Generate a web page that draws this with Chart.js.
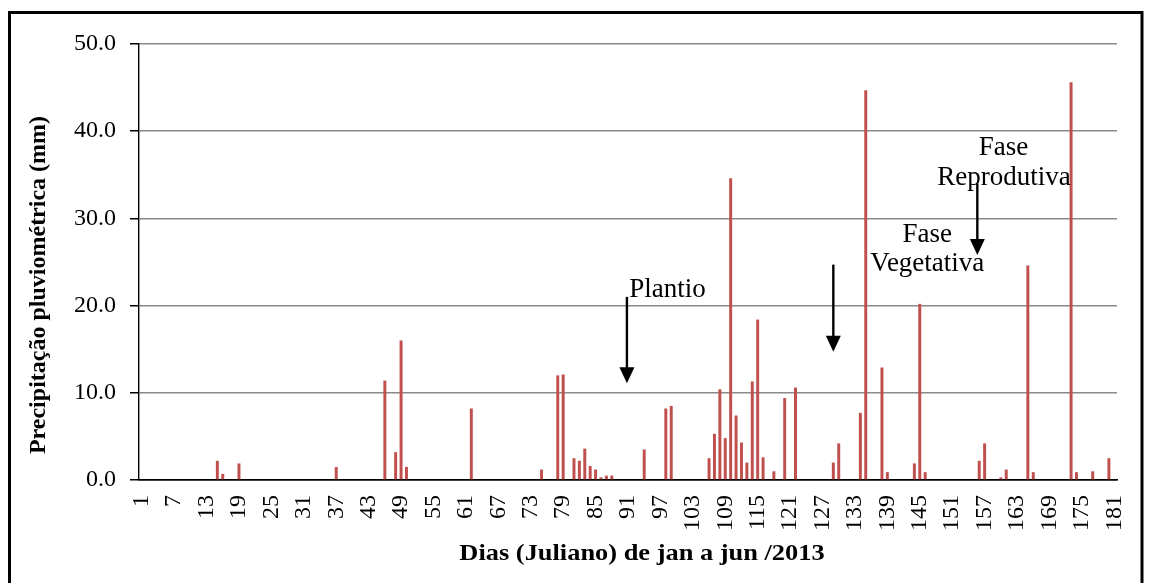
<!DOCTYPE html>
<html>
<head>
<meta charset="utf-8">
<script src="https://cdn.jsdelivr.net/npm/chart.js@4.4.1/dist/chart.umd.min.js"></script>
<style>
  html, body { margin: 0; padding: 0; background: #fff; }
  canvas { display: block; }
</style>
</head>
<body>
<canvas id="chuva" width="1151" height="583"></canvas>
<script>
// Dias julianos (1 a 181) de janeiro a junho de 2013
const dayLabels = Array.from({ length: 181 }, (_, i) => String(i + 1));
// Dias exibidos no eixo horizontal
const tickDays = [1, 7, 13, 19, 25, 31, 37, 43, 49, 55, 61, 67, 73, 79, 85, 91, 97, 103, 109, 115, 121, 127, 133, 139, 145, 151, 157, 163, 169, 175, 181];
// Dias com chuva e a precipitação registrada (mm)
const rainDays = [15, 16, 19, 37, 46, 48, 49, 50, 62, 75, 78, 79, 81, 82, 83, 84, 85, 86, 87, 88, 94, 98, 99,
  106, 107, 108, 109, 110, 111, 112, 113, 114, 115, 116, 118, 120, 122, 129, 130, 134, 135, 138, 139,
  144, 145, 146, 156, 157, 160, 161, 165, 166, 173, 174, 177, 180];
const rainMm = [2.2, 0.7, 1.9, 1.5, 11.4, 3.2, 16.0, 1.5, 8.2, 1.2, 12.0, 12.1, 2.5, 2.2, 3.6, 1.6, 1.2, 0.3, 0.5, 0.5, 3.5, 8.2, 8.5,
  2.5, 5.3, 10.4, 4.8, 34.6, 7.4, 4.3, 2.0, 11.3, 18.4, 2.6, 1.0, 9.4, 10.6, 2.0, 4.2, 7.7, 44.7, 12.9, 0.9,
  1.9, 20.2, 0.9, 2.2, 4.2, 0.3, 1.2, 24.6, 0.9, 45.6, 0.9, 1.0, 2.5];
// Escala do eixo vertical
const yTicks = [0, 10, 20, 30, 40, 50];

// Série diária completa (dias sem chuva = 0)
const series = dayLabels.map(() => 0);
rainDays.forEach((d, k) => { series[d - 1] = rainMm[k]; });

const SERIF = '"Liberation Serif", "Times New Roman", serif';

// Moldura, títulos dos eixos e marcações das fases
const decorations = {
  id: 'decorations',
  beforeDraw(chart) {
    const c = chart.ctx;
    c.save();
    c.fillStyle = '#fff';
    c.fillRect(0, 0, chart.width, chart.height);
    c.restore();
  },
  afterDraw(chart) {
    const c = chart.ctx;
    const xs = chart.scales.x, ys = chart.scales.y;
    const px = i => xs.getPixelForValue(i);
    const py = v => ys.getPixelForValue(v);

    c.save();
    // moldura
    c.strokeStyle = '#000';
    c.lineWidth = 3;
    c.beginPath();
    c.moveTo(9.5, 600);
    c.lineTo(9.5, 12.5);
    c.lineTo(1142, 12.5);
    c.lineTo(1142, 600);
    c.stroke();

    // títulos dos eixos
    c.fillStyle = '#000';
    c.textAlign = 'center';
    c.textBaseline = 'middle';
    c.font = 'bold 24px ' + SERIF;
    c.save();
    c.translate(39, 285);
    c.rotate(-Math.PI / 2);
    c.fillText('Precipitação pluviométrica (mm)', 0, 0);
    c.restore();
    c.save();
    c.translate(642, 554);
    c.scale(1.1, 1);
    c.fillText('Dias (Juliano) de jan a jun /2013', 0, 0);
    c.restore();

    // textos das fases
    c.font = '27px ' + SERIF;
    c.textBaseline = 'alphabetic';
    const text = (s, i, v) => c.fillText(s, px(i), py(v));
    text('Plantio', 97.3, 21.0);
    text('Fase', 145.4, 27.3);
    text('Vegetativa', 145.4, 24.0);
    text('Fase', 159.5, 37.3);
    text('Reprodutiva', 159.6, 33.8);

    // setas
    const arrow = (i, v0, v1) => {
      const x = px(i), y0 = py(v0), y1 = py(v1);
      c.strokeStyle = '#000';
      c.lineWidth = 2.4;
      c.beginPath();
      c.moveTo(x, y0);
      c.lineTo(x, y1 - 14);
      c.stroke();
      c.beginPath();
      c.moveTo(x - 7.5, y1 - 16);
      c.lineTo(x + 7.5, y1 - 16);
      c.lineTo(x, y1);
      c.closePath();
      c.fill();
    };
    arrow(89.8, 21.0, 11.1);
    arrow(128.0, 24.7, 14.7);
    arrow(154.65, 34.0, 25.8);
    c.restore();
  }
};

new Chart(document.getElementById('chuva'), {
  type: 'bar',
  data: {
    labels: dayLabels,
    datasets: [{
      data: series,
      backgroundColor: '#C0504D',
      borderWidth: 0,
      categoryPercentage: 1.0,
      barPercentage: 0.55
    }]
  },
  options: {
    responsive: false,
    animation: false,
    events: [],
    layout: { padding: { left: 0, right: 34, top: 44, bottom: 0 } },
    plugins: { legend: { display: false }, tooltip: { enabled: false } },
    scales: {
      x: {
        grid: { display: false, drawTicks: false },
        border: { color: '#000', width: 1.4 },
        ticks: {
          autoSkip: false,
          minRotation: 90,
          maxRotation: 90,
          padding: 15,
          color: '#000',
          font: { family: SERIF, size: 24 },
          callback: (v, i) => tickDays.includes(i + 1) ? dayLabels[i] : null
        },
        afterFit: s => { s.height = 103; s.paddingLeft = 0; s.paddingRight = 0; }
      },
      y: {
        min: yTicks[0],
        max: yTicks[yTicks.length - 1],
        afterBuildTicks: s => { s.ticks = yTicks.map(v => ({ value: v })); },
        ticks: {
          padding: 14,
          color: '#000',
          font: { family: SERIF, size: 24 },
          callback: v => Number(v).toFixed(1)
        },
        grid: {
          color: ctx => (ctx.tick && ctx.tick.value === 0) ? '#000' : '#898989',
          lineWidth: 1.5,
          tickColor: '#000',
          tickLength: 9
        },
        border: { color: '#000', width: 1.4 },
        afterFit: s => { s.width = 139; s.paddingTop = 0; s.paddingBottom = 0; }
      }
    }
  },
  plugins: [decorations]
});
</script>
</body>
</html>
